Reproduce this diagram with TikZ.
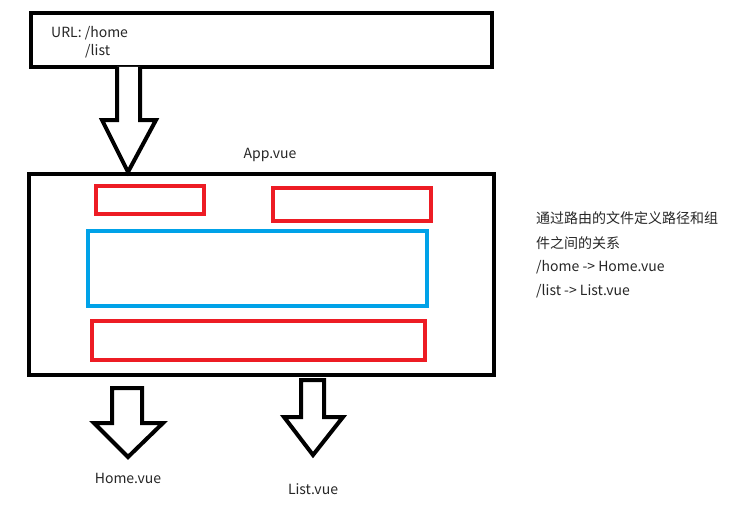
\documentclass[tikz,border=0pt]{standalone}
\usepackage{fontspec}
\setmainfont{Noto Sans CJK SC}
\begin{document}
\begin{tikzpicture}[x=1pt,y=-1pt,
  blk/.style={draw=black,line width=4pt},
  redbox/.style={draw=redc,line width=3.5pt},
  bluebox/.style={draw=bluec,line width=4pt},
  fatarrow/.style={draw=black,line width=4pt,line join=miter,fill=white},
  lbl/.style={inner sep=0pt,font=\fontsize{14}{17}\selectfont,text=black!85}]
\definecolor{redc}{HTML}{ED1C24}
\definecolor{bluec}{HTML}{00A2E8}
\useasboundingbox[fill=white] (0,0) rectangle (750,511);
% URL box
\draw[blk] (31,13) rectangle (492,67);
\node[lbl,anchor=west] (url) at (51,33) {URL: /home};
\node[lbl,anchor=west] (list) at (85,51) {/list};
% big arrow
\draw[fatarrow] (117,67) -- (117,120) -- (102,120) -- (128,172) -- (156,120) -- (140,120) -- (140,67);
% App box
\node[lbl] (appl) at (270,155) {App.vue};
\draw[blk] (29,174) rectangle (494,375);
\draw[redbox] (96,186) rectangle (204,214);
\draw[redbox] (273,188) rectangle (431,221);
\draw[bluebox] (88,231) rectangle (427,306);
\draw[redbox] (92,321) rectangle (425,360);
% small arrows
\draw[fatarrow] (112,388) -- (142,388) -- (142,423) -- (163,423) -- (128,457) -- (94,423) -- (112,423) -- cycle;
\draw[fatarrow] (301,380) -- (324,380) -- (324,417) -- (343,417) -- (313,455) -- (284,417) -- (301,417) -- cycle;
\node[lbl] (home) at (128,478) {Home.vue};
\node[lbl] (listv) at (313,489) {List.vue};
% explanation
\node[lbl,anchor=west] (t1) at (536,218) {通过路由的文件定义路径和组};
\node[lbl,anchor=west] (t2) at (536,243) {件之间的关系};
\node[lbl,anchor=west] (t3) at (536,267) {/home -> Home.vue};
\node[lbl,anchor=west] (t4) at (536,291) {/list -> List.vue};
\end{tikzpicture}
\end{document}
